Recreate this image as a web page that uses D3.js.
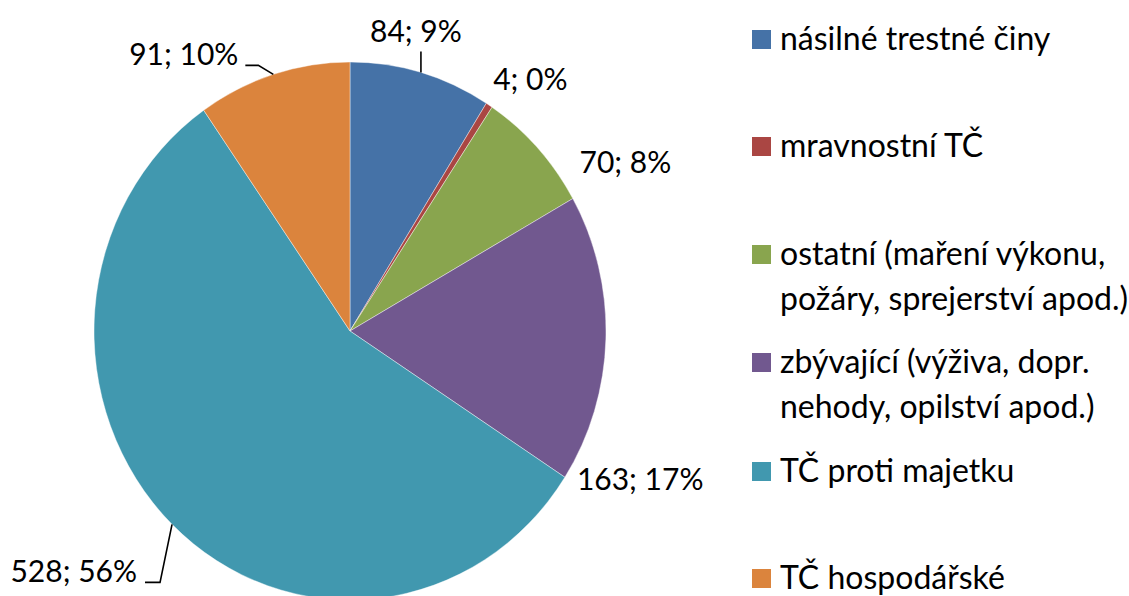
<!DOCTYPE html>
<html>
<head>
<meta charset="utf-8">
<script src="https://cdn.jsdelivr.net/npm/d3@7"></script>
<style>
  body { margin: 0; background: #fff; }
  svg { display: block; font-family: Lato, "Open Sans", sans-serif; }
</style>
</head>
<body>
<script>
// data
const categories = [
  'násilné trestné činy',
  'mravnostní TČ',
  'ostatní (maření výkonu, požáry, sprejerství apod.)',
  'zbývající (výživa, dopr. nehody, opilství apod.)',
  'TČ proti majetku',
  'TČ hospodářské'
]
const counts = [84, 4, 70, 163, 528, 91]
const percents = ['9%', '0%', '8%', '17%', '56%', '10%']
const legendLines = [
  ['násilné trestné činy'],
  ['mravnostní TČ'],
  ['ostatní (maření výkonu,', 'požáry, sprejerství apod.)'],
  ['zbývající (výživa, dopr.', 'nehody, opilství apod.)'],
  ['TČ proti majetku'],
  ['TČ hospodářské']
]
const colors = ['#4572A7', '#AA4643', '#89A54E', '#71588F', '#4198AF', '#DB843D']

const width = 1129
const height = 596
const cx = 350, cy = 331
const rx = 256, ry = 269

// label placement relative to the slice's outer mid point (Excel had them dragged)
const labelLayout = [
  { dx: -5, dy: -31, anchor: 'middle', leader: [[0, 0], [0, -21]] },
  { dx: 4, dy: -15, anchor: 'start', leader: null },
  { dx: 42, dy: 25, anchor: 'start', leader: null },
  { dx: -29, dy: 151, anchor: 'start', leader: null },
  { dx: -35, dy: 58, anchor: 'end', leader: [[0, 0], [-12, 58], [-27, 58]] },
  { dx: -35, dy: -9, anchor: 'end', leader: [[0, 0], [-15, -9], [-28, -9]] }
]

const svg = d3.select('body')
  .append('svg')
  .attr('width', width)
  .attr('height', height)

const pieData = d3.pie().sort(null).value(d => d)(counts)

const arc = d3.arc().innerRadius(0).outerRadius(rx)

const gPie = svg.append('g')
  .attr('transform', `translate(${cx}, ${cy}) scale(1, ${ry / rx})`)

gPie.selectAll('path')
  .data(pieData)
  .enter()
  .append('path')
  .attr('d', arc)
  .attr('fill', (d, i) => colors[i])
  .attr('stroke', '#fff')
  .attr('stroke-width', 0.4)

// outer mid point of each slice, on the ellipse
const edgePoint = d => {
  const a = (d.startAngle + d.endAngle) / 2
  return [cx + rx * Math.sin(a), cy - ry * Math.cos(a)]
}

const gLabels = svg.append('g')

pieData.forEach((d, i) => {
  const [ex, ey] = edgePoint(d)
  const lay = labelLayout[i]
  if (lay.leader) {
    gLabels.append('path')
      .attr('d', d3.line()(lay.leader.map(p => [ex + p[0], ey + p[1]])))
      .attr('fill', 'none')
      .attr('stroke', '#000')
      .attr('stroke-width', 1.6)
  }
  gLabels.append('text')
    .attr('x', ex + lay.dx)
    .attr('y', ey + lay.dy)
    .attr('text-anchor', lay.anchor)
    .attr('font-size', '30px')
    .attr('fill', '#000')
    .text(`${counts[i]}; ${percents[i]}`)
})

// legend
const legendTop = [50, 157, 265, 373, 482, 589]
const gLegend = svg.append('g')

legendLines.forEach((lines, i) => {
  const g = gLegend.append('g')
  g.append('rect')
    .attr('x', 752)
    .attr('y', legendTop[i] - 20)
    .attr('width', 19)
    .attr('height', 19)
    .attr('fill', colors[i])
  lines.forEach((t, j) => {
    g.append('text')
      .attr('x', 780)
      .attr('y', legendTop[i] + j * 45)
      .attr('font-size', '32px')
      .attr('fill', '#000')
      .text(t)
  })
})
</script>
</body>
</html>
